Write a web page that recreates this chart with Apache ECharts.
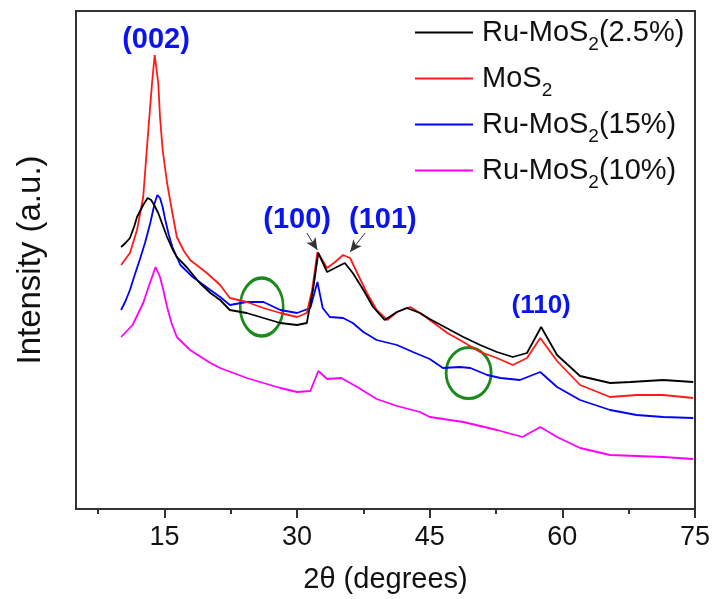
<!DOCTYPE html>
<html><head><meta charset="utf-8">
<script src="https://cdn.jsdelivr.net/npm/echarts@6/dist/echarts.min.js"></script>
<style>html,body{margin:0;padding:0;background:#fff}#c{width:716px;height:599px}</style>
</head><body><div id="c"></div>
<script>
// ---- data (2θ in degrees, intensity in a.u.) ----
const seriesNames = ['Ru-MoS2(2.5%)', 'MoS2', 'Ru-MoS2(15%)', 'Ru-MoS2(10%)'];
const seriesColors = ['#000000', '#ff1a1a', '#0000ff', '#ff00ff'];
const ru25 = [[10.1,262],[10.6,266],[11.1,271],[11.6,283],[11.9,292],[12.6,304],[13.1,311],[13.5,309],[13.9,303],[14.3,296],[14.8,284],[15.3,272],[15.9,260],[16.4,252],[17.5,242],[19.0,226],[20.2,216],[21.3,209],[22.4,199],[24.3,196],[26.2,191],[28.1,186],[30.0,184],[31.1,186],[31.8,219],[32.4,256],[33.4,237],[34.5,242],[35.4,246],[36.3,236],[37.5,219],[38.6,202],[39.9,189],[41.3,197],[42.4,201],[43.9,196],[45.0,190],[46.9,181],[48.8,172],[50.7,164],[52.6,157],[54.4,152],[56.0,156],[57.6,182],[59.4,154],[62.0,133],[65.4,126],[67.7,127],[71.4,129],[74.8,127]];
const mos2 = [[10.1,244],[11.1,256],[11.9,279],[12.6,312],[13.1,370],[13.6,426],[13.9,454],[14.3,426],[14.5,392],[14.8,359],[15.3,326],[15.9,296],[16.4,272],[17.2,258],[17.9,249],[19.8,236],[21.3,224],[22.4,211],[24.3,207],[26.2,201],[28.1,196],[30.0,192],[31.1,196],[31.7,219],[32.3,257],[33.4,241],[34.3,247],[35.2,254],[36.0,251],[36.8,236],[37.9,216],[39.0,199],[40.2,189],[41.3,197],[42.8,202],[43.9,196],[45.0,189],[47.0,176],[48.8,167],[50.7,157],[52.6,151],[54.4,144],[56.0,151],[57.5,171],[59.4,148],[62.0,124],[65.4,112],[68.4,114],[71.4,114],[74.8,111]];
const ru15 = [[10.1,199],[10.6,208],[11.1,219],[11.6,233],[12.2,249],[12.8,266],[13.4,286],[13.9,306],[14.2,314],[14.5,311],[14.8,302],[15.1,289],[15.5,274],[15.9,262],[16.8,244],[18.2,232],[20.2,219],[21.3,212],[22.4,204],[24.3,207],[26.2,207],[28.1,199],[30.0,196],[31.5,201],[32.3,227],[32.9,201],[33.7,192],[35.2,191],[36.3,186],[37.5,177],[39.0,169],[41.3,164],[43.1,157],[45.0,150],[46.5,141],[48.4,142],[49.6,141],[51.5,134],[53.0,131],[55.2,129],[57.5,137],[59.4,122],[62.0,109],[65.4,99],[68.4,94],[71.4,92],[74.8,91]];
const ru10 = [[10.1,172],[11.4,184],[12.6,206],[13.2,222],[13.6,232],[14.0,242],[14.5,232],[14.9,218],[15.3,202],[15.8,186],[16.4,172],[17.2,165],[17.9,159],[20.2,146],[21.3,141],[24.3,131],[26.2,126],[28.1,121],[30.0,117],[31.5,118],[32.4,138],[33.4,130],[35.0,131],[36.8,122],[39.0,110],[41.3,103],[43.9,97],[45.0,92],[48.8,87],[52.6,79],[55.5,72],[57.5,82],[59.4,72],[62.0,61],[65.4,54],[71.4,52],[74.8,50]];
const majorTicks = [15, 30, 45, 60, 75];
const minorTicks = [7.5, 22.5, 37.5, 52.5, 67.5];
const peakLabels = ['(002)', '(100)', '(101)', '(110)'];
const peakLabelPos = [[14.05,469],[30.0,289],[39.7,289],[57.6,203]];
const arrowFrom = [[31.1,276],[37.7,276]];
const arrowTo = [[32.3,259],[36.0,257]];
const circlePos = [[26.0,202],[49.4,136]];

const FONT = "'Liberation Sans', Arial, sans-serif";
const allData = [ru25, mos2, ru15, ru10];

function legendFmt(name) {
  const m = name.match(/^(.*?)S2(.*)$/);
  if (!m) return '{n|' + name + '}';
  return '{n|' + m[1] + 'S}{s|2}' + (m[2] ? '{n|' + m[2] + '}' : '');
}

const series = allData.map((d, i) => ({
  name: seriesNames[i], type: 'line', data: d, showSymbol: false, symbol: 'none',
  lineStyle: { width: 1.8, color: seriesColors[i] }, itemStyle: { color: seriesColors[i] },
  z: 10 - i
}));
series[0].markPoint = {
  symbol: 'circle', symbolSize: 0, silent: true,
  label: { show: true, position: 'inside', color: '#0a14f0', fontWeight: 'bold', fontFamily: FONT, fontSize: 29 },
  data: peakLabels.map((t, i) => ({ coord: peakLabelPos[i], value: t,
    label: { formatter: t, fontSize: i === 3 ? 26 : 29 } }))
};
series[1].markLine = {
  silent: true, symbol: ['none', 'arrow'], symbolSize: [8, 12],
  lineStyle: { color: '#333', width: 1, type: 'solid' }, label: { show: false },
  data: arrowFrom.map((f, i) => [{ coord: f }, { coord: arrowTo[i] }])
};
const circleSizes = [[43, 58], [45, 51]];
series[2].markPoint = {
  symbol: 'circle', silent: true,
  itemStyle: { color: 'rgba(0,0,0,0)', borderColor: '#1a8a1a', borderWidth: 3 },
  label: { show: false },
  data: circlePos.map((c, i) => ({ coord: c, symbolSize: circleSizes[i] }))
};

const chart = echarts.init(document.getElementById('c'));
chart.setOption({
  backgroundColor: '#fff',
  animation: false,
  textStyle: { fontFamily: FONT },
  grid: { left: 76, right: 21, top: 11, bottom: 90, show: true, borderColor: '#333', borderWidth: 2, outerBoundsMode: 'none' },
  legend: {
    orient: 'vertical', left: 410, top: 6, itemWidth: 58, itemHeight: 2, itemGap: 3,
    icon: 'rect', data: seriesNames,
    formatter: legendFmt,
    textStyle: { padding: [0, 0, 0, 4], rich: {
      n: { fontSize: 29, fontFamily: FONT, color: '#111', lineHeight: 32 },
      s: { fontSize: 19, fontFamily: FONT, color: '#111', lineHeight: 19, padding: [24, 0, 0, 0] }
    } }
  },
  xAxis: [{
    type: 'value', min: 5, max: 75,
    name: '2θ (degrees)', nameLocation: 'middle', nameGap: 56,
    nameTextStyle: { fontSize: 29, color: '#111', fontFamily: FONT },
    axisLine: { show: true, lineStyle: { color: '#333', width: 2 } },
    axisTick: { show: true, customValues: majorTicks, length: 9, lineStyle: { color: '#333', width: 2 } },
    axisLabel: { customValues: majorTicks, fontSize: 27, color: '#111', margin: 15, fontFamily: FONT },
    splitLine: { show: false }
  }, {
    type: 'value', min: 5, max: 75, position: 'bottom', gridIndex: 0,
    axisLine: { show: false },
    axisTick: { show: true, customValues: minorTicks, length: 5, lineStyle: { color: '#333', width: 2 } },
    axisLabel: { show: false }, splitLine: { show: false }
  }],
  yAxis: {
    type: 'value', min: 0, max: 498,
    name: 'Intensity (a.u.)', nameLocation: 'middle', nameGap: 29,
    nameTextStyle: { fontSize: 33, color: '#111', fontFamily: FONT },
    axisLine: { show: true, lineStyle: { color: '#333', width: 2 } },
    axisTick: { show: false }, axisLabel: { show: false }, splitLine: { show: false }
  },
  series: series
});
</script></body></html>
